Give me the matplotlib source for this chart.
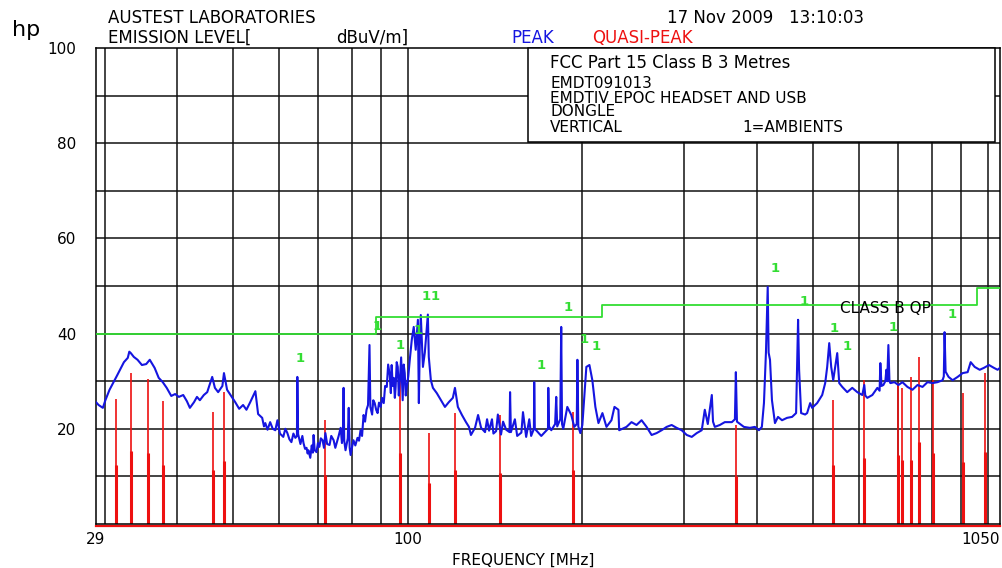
import matplotlib.pyplot as plt
from matplotlib.patches import Rectangle

# peak trace (MHz, dBuV/m)
peak_mhz = [29.0, 29.3, 29.8, 30.1, 30.6, 31.1, 31.5, 31.9, 32.4, 32.9, 33.1, 33.3, 33.7, 34.2, 34.8,
            35.4, 35.9, 36.6, 37.2, 37.8, 38.4, 39.1, 39.7, 40.3, 41.0, 41.6, 42.1, 42.8, 43.3, 43.8,
            44.5, 45.1, 45.6, 46.0, 46.5, 47.1, 47.9, 48.2, 48.8, 49.6, 50.4, 51.2, 52.0, 52.7, 53.5,
            54.6, 55.2, 56.1, 56.5, 56.8, 57.3, 57.9, 58.5, 59.1, 59.6, 60.2, 61.0, 61.5, 62.0, 62.5,
            63.0, 63.5, 64.0, 64.4, 64.5, 64.7, 65.3, 65.8, 66.1, 66.5, 66.9, 67.2, 67.4, 67.9, 68.3,
            68.6, 68.8, 69.1, 69.6, 70.0, 70.4, 70.8, 71.3, 71.7, 72.1, 72.6, 73.3, 73.8, 74.5, 75.0,
            75.4, 76.0, 76.6, 77.0, 77.3, 77.5, 77.7, 78.1, 78.4, 78.8, 79.1, 79.4, 79.7, 80.1, 80.6,
            81.2, 81.9, 82.4, 82.9, 83.4, 83.9, 84.4, 84.9, 85.4, 85.9, 86.2, 86.8, 87.2, 87.7, 88.2,
            88.7, 89.2, 89.8, 90.3, 90.9, 91.4, 92.0, 92.5, 93.1, 93.5, 93.8, 94.2, 94.6, 95.0, 95.3,
            95.7, 96.1, 96.5, 96.9, 97.4, 98.0, 98.4, 98.8, 99.2, 99.6, 100.2, 100.8, 101.6, 102.4, 103.2,
            104.1, 104.5, 104.9, 105.3, 106.2, 107.0, 108.3, 108.7, 109.6, 110.5, 112.2, 114.1, 115.9, 117.7, 119.6,
            120.6, 122.0, 124.0, 126.0, 127.5, 128.5, 130.6, 132.2, 133.8, 135.9, 137.0, 138.1, 139.7, 140.5, 142.0,
            143.0, 144.8, 146.0, 147.8, 149.8, 150.1, 150.6, 153.0, 154.4, 157.0, 158.0, 160.0, 162.0, 163.2, 165.0,
            165.2, 165.6, 169.9, 172.6, 174.5, 174.7, 175.2, 176.8, 179.5, 180.3, 181.0, 183.2, 183.9, 184.5, 185.4,
            188.4, 191.4, 193.7, 195.6, 196.1, 196.8, 198.4, 200.0, 203.2, 205.7, 208.1, 210.6, 213.2, 216.6, 220.1,
            224.5, 227.2, 230.8, 231.5, 238.3, 243.1, 248.0, 253.0, 258.1, 263.3, 268.6, 274.0, 279.5, 285.1, 290.8,
            296.7, 302.7, 308.8, 315.0, 321.3, 325.2, 329.1, 334.4, 336.0, 338.4, 345.2, 352.1, 362.1, 366.5, 367.9,
            369.5, 372.3, 379.8, 389.0, 396.8, 403.2, 407.9, 411.3, 414.6, 417.5, 419.0, 421.3, 424.6, 429.7, 434.9,
            441.9, 450.8, 459.9, 467.3, 471.0, 472.9, 476.7, 484.3, 488.2, 494.1, 498.0, 508.0, 518.3, 524.5, 528.7,
            533.0, 537.2, 541.5, 545.8, 550.2, 554.6, 561.3, 572.5, 584.0, 595.8, 607.8, 612.6, 615.0, 620.0, 632.5,
            645.2, 651.0, 652.9, 656.0, 660.8, 666.0, 668.7, 671.0, 674.1, 677.0, 679.5, 690.4, 701.5, 712.7, 727.1,
            741.7, 756.7, 771.9, 787.4, 803.2, 819.4, 835.9, 840.0, 842.6, 846.0, 856.1, 869.9, 887.4, 905.2, 923.4,
            934.6, 949.6, 968.7, 985.0, 1005, 1025, 1040, 1050]
peak_db = [25.6, 25.0, 24.4, 26.0, 28.2, 29.8, 31.1, 32.4, 34.0, 34.9, 36.2, 35.9, 35.1, 34.5, 33.4,
           33.6, 34.5, 32.8, 30.7, 29.8, 28.6, 26.9, 27.3, 26.7, 27.1, 25.8, 24.4, 25.6, 26.7, 26.0,
           27.1, 27.7, 29.5, 30.9, 28.6, 27.7, 29.0, 31.7, 28.2, 26.9, 25.6, 24.2, 25.0, 24.0, 25.6,
           27.9, 23.1, 22.3, 20.5, 21.2, 19.8, 21.4, 20.0, 19.7, 21.8, 19.0, 18.3, 20.0, 19.1, 17.8,
           17.2, 19.0, 18.1, 18.5, 30.9, 18.9, 16.8, 18.5, 17.0, 15.8, 16.0, 14.8, 15.5, 13.9, 16.5,
           15.0, 18.7, 15.5, 15.1, 17.0, 16.2, 18.0, 17.6, 16.0, 19.1, 16.8, 16.6, 18.5, 17.6, 16.0,
           17.0, 18.5, 20.2, 17.0, 19.0, 28.6, 17.5, 15.5, 16.6, 18.0, 24.4, 16.0, 14.5, 16.0, 17.6,
           16.5, 18.1, 17.5, 19.7, 18.5, 22.9, 21.5, 24.0, 25.0, 37.6, 24.6, 23.0, 26.0, 25.4, 24.0,
           23.3, 25.5, 24.6, 26.5, 25.4, 29.0, 28.8, 33.5, 31.3, 27.5, 33.4, 29.0, 30.7, 26.5, 28.8,
           34.0, 33.0, 27.0, 30.2, 35.0, 26.0, 33.5, 31.7, 27.0, 28.8, 31.0, 34.5, 38.7, 41.4, 36.6,
           42.9, 25.4, 38.0, 43.9, 33.0, 36.0, 44.0, 35.1, 30.2, 28.6, 27.5, 26.0, 24.6, 25.6, 26.5,
           28.6, 24.6, 22.9, 21.4, 20.4, 18.7, 20.2, 22.9, 20.2, 19.3, 22.0, 19.6, 22.0, 19.0, 19.5,
           23.0, 18.8, 21.5, 19.8, 19.3, 27.7, 19.3, 22.0, 18.5, 19.2, 23.5, 18.3, 22.0, 18.5, 20.0,
           29.8, 20.0, 18.5, 19.4, 20.0, 28.6, 20.5, 19.7, 21.0, 26.7, 20.5, 22.0, 41.4, 21.0, 20.0,
           24.6, 22.9, 20.4, 21.0, 34.5, 20.5, 19.1, 20.8, 33.0, 33.4, 30.2, 24.6, 21.2, 23.3, 20.4,
           21.8, 24.6, 24.0, 19.7, 20.4, 21.4, 20.8, 21.8, 20.4, 18.7, 19.1, 19.7, 20.4, 20.8, 20.2,
           19.7, 18.7, 18.3, 19.1, 19.7, 24.0, 21.0, 27.1, 21.5, 20.4, 20.8, 21.4, 21.4, 22.0, 31.9,
           21.5, 21.2, 20.4, 20.2, 20.4, 19.7, 20.4, 25.4, 36.1, 49.8, 36.0, 34.5, 26.0, 21.2, 22.5,
           21.8, 22.3, 22.5, 23.3, 42.9, 32.4, 23.3, 23.0, 23.3, 25.4, 24.4, 25.4, 27.1, 29.6, 33.0,
           38.0, 33.0, 30.2, 33.0, 35.9, 29.6, 28.8, 27.7, 28.6, 27.7, 27.1, 29.2, 27.0, 26.5, 27.1,
           28.6, 28.0, 33.8, 29.0, 29.2, 30.0, 32.4, 30.0, 37.6, 30.0, 29.6, 29.8, 29.2, 29.8, 28.8,
           28.2, 29.2, 28.8, 29.8, 29.6, 29.8, 30.2, 31.0, 40.3, 32.0, 30.9, 30.2, 30.9, 31.7, 31.9,
           34.0, 33.0, 32.4, 32.8, 33.4, 32.8, 32.4, 32.8]

# quasi-peak measurements
qp_mhz = [31.4, 33.3, 35.6, 37.8, 46.2, 48.2, 72.1, 96.9, 108.7, 120.6, 144.3, 192.9,
          367.9, 541.5, 612.6, 701.5, 712.7, 738.9, 762.7, 803.2, 905.2, 990.0]
qp_db = [26.3, 31.7, 30.5, 25.8, 23.5, 27.7, 21.8, 30.9, 19.1, 23.3, 22.9, 23.5,
         20.8, 26.0, 30.2, 29.6, 28.6, 30.9, 35.1, 30.2, 27.5, 31.7]
qp_lower = [12.4, 15.3, 14.9, 12.4, 11.3, 13.2, 10.3, 14.9, 8.6, 11.3, 10.7, 11.3,
            10.0, 12.4, 13.9, 14.5, 13.4, 13.4, 17.2, 14.9, 13.0, 15.1]

# FCC class B QP limit
limit_mhz = [29, 88, 88, 216, 216, 960, 960, 1050]
limit_db = [40, 40, 43.5, 43.5, 46, 46, 49.5, 49.5]

# ambient markers "1"
amb_mhz = [65.3, 88.7, 96.9, 104.0, 107.4, 111.4, 170.0, 189.0, 201.6, 211.0,
           430.0, 482.0, 543.0, 573.0, 687.0, 869.0]
amb_db = [34.7, 41.4, 37.6, 40.6, 47.7, 47.7, 33.4, 45.4, 38.7, 37.2,
          53.6, 46.8, 41.0, 37.2, 41.2, 44.0]

grid_mhz = [30, 40, 50, 60, 70, 80, 90, 100, 200, 300, 400, 500, 600, 700, 800, 900, 1000]

W, H = 1003, 568
FONT = 'DejaVu Sans'


def ftext(x, y, s, **kw):
    kw.setdefault('fontsize', 12)
    kw.setdefault('va', 'center')
    kw.setdefault('family', FONT)
    fig.text(x / W, 1 - y / H, s, **kw)


fig = plt.figure(figsize=(W / 100, H / 100), dpi=100)
ax = fig.add_axes([96 / W, 1 - 524 / H, 904 / W, 476 / H])
ax.set_xscale('log')
ax.set_xlim(29, 1050)
ax.set_ylim(0, 100)

for f in grid_mhz:
    ax.axvline(f, color='#111111', lw=1.1, zorder=1)
for d in range(10, 100, 10):
    ax.axhline(d, color='#111111', lw=1.1, zorder=1)
for s in ax.spines.values():
    s.set_linewidth(1.1)

red = '#ee1111'
ax.vlines(qp_mhz, 0, qp_db, color=red, lw=1.2, zorder=2)
ax.vlines(qp_mhz, 0, qp_lower, color=red, lw=2.2, zorder=2)
ax.plot([29, 1050], [-0.5, -0.5], color=red, lw=1.6, clip_on=False, zorder=2)

ax.plot(peak_mhz, peak_db, color='#1515e0', lw=1.5, zorder=3)
ax.plot(limit_mhz, limit_db, color='#33dd33', lw=1.3, zorder=4)
for f, d in zip(amb_mhz, amb_db):
    ax.text(f, d, '1', color='#33dd33', fontsize=9.5, fontweight='bold',
            ha='center', va='center', zorder=4)
ax.text(556, 45.2, 'CLASS B QP', fontsize=11, va='center', family=FONT, zorder=4)

box = Rectangle((0.478, 0.8025), 0.5165, 0.1975, transform=ax.transAxes,
                fc='white', ec='black', lw=1.1, zorder=5, clip_on=False)
ax.add_patch(box)

ax.set_xticks([29, 100, 1050])
ax.set_xticklabels(['29', '100', '1050'])
ax.xaxis.set_minor_locator(plt.NullLocator())
ax.get_xticklabels()[-1].set_ha('right')
ax.set_yticks([20, 40, 60, 80, 100])
ax.set_yticklabels(['20', '40', '60', '80', '100'])
ax.tick_params(length=0, labelsize=11)
ax.tick_params(axis='x', pad=6)
ax.tick_params(axis='y', pad=14)

ftext(12, 30, 'hp', fontsize=16)
ftext(108, 18, 'AUSTEST LABORATORIES')
ftext(108, 38, 'EMISSION LEVEL[')
ftext(336, 38, 'dBuV/m]')
ftext(511, 38, 'PEAK', color='#1515e0')
ftext(592, 38, 'QUASI-PEAK', color=red)
ftext(667, 18, '17 Nov 2009   13:10:03')
ftext(550, 63, 'FCC Part 15 Class B 3 Metres', zorder=6)
ftext(550, 83, 'EMDT091013', fontsize=11, zorder=6)
ftext(550, 99, 'EMDTIV EPOC HEADSET AND USB', fontsize=11, zorder=6)
ftext(550, 112, 'DONGLE', fontsize=11, zorder=6)
ftext(550, 127, 'VERTICAL', fontsize=11, zorder=6)
ftext(742, 127, '1=AMBIENTS', fontsize=11, zorder=6)
ftext(523, 560, 'FREQUENCY [MHz]', fontsize=11, ha='center')

fig.savefig('out.png', dpi=100)
